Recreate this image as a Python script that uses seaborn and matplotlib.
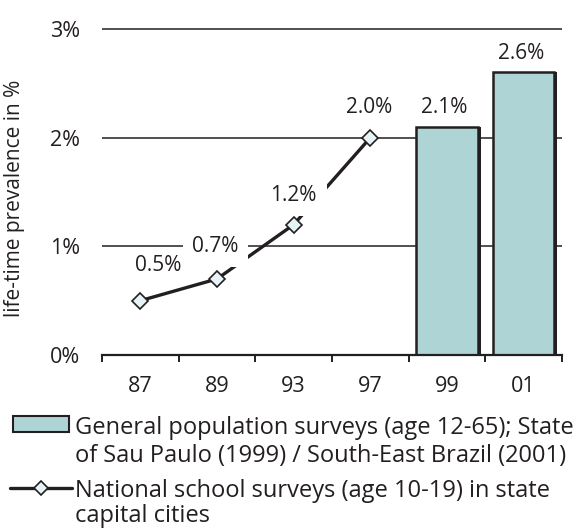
import matplotlib
matplotlib.use("Agg")
import matplotlib.pyplot as plt
import matplotlib.patheffects as pe
from matplotlib.patches import Rectangle
from matplotlib.lines import Line2D
import seaborn as sns

# Survey years on the category axis
years = ["87", "89", "93", "97", "99", "01"]

# National school surveys (age 10-19), life-time prevalence in %
school_years = ["87", "89", "93", "97"]
school_values = [0.5, 0.7, 1.2, 2.0]

# General population surveys (age 12-65)
general_years = ["99", "01"]
general_values = [2.1, 2.6]

y_ticks = [0, 1, 2, 3]
y_tick_labels = ["0%", "1%", "2%", "3%"]

legend_bar_lines = ["General population surveys (age 12-65); State",
                    "of Sau Paulo (1999) / South-East Brazil (2001)"]
legend_line_lines = ["National school surveys (age 10-19) in state",
                     "capital cities"]

INK = "#231f20"
BAR = "#aed4d5"
MARKER_FACE = "#e6f4f8"

sns.set_theme(style="white")
plt.rcParams["font.family"] = ["Open Sans", "DejaVu Sans"]

W, H = 579, 529
fig = plt.figure(figsize=(W / 100, H / 100), dpi=100)

y_top = 3.05
px_per_unit = (355 - 29) / 3.0
ax_h = px_per_unit * y_top
ax = fig.add_axes([102 / W, (H - 355) / H, 460 / W, ax_h / H])

# horizontal reference lines at 1%, 2%, 3%
for t in y_ticks[1:]:
    ax.axhline(t, color=INK, lw=1.1, zorder=1)

# bars for the general population surveys
sns.barplot(x=general_years, y=general_values, order=years, color=BAR,
            saturation=1, width=0.8, edgecolor=INK, linewidth=1.8,
            ax=ax, zorder=2)
for p in ax.patches:
    p.set_path_effects([pe.SimplePatchShadow(offset=(2.2, 0), shadow_rgbFace=INK, alpha=1),
                        pe.Normal()])

# line for the school surveys
school_pos = [years.index(y) for y in school_years]
sns.lineplot(x=school_pos, y=school_values, color=INK, lw=2.4, marker="D",
             markersize=8, markerfacecolor=MARKER_FACE, markeredgecolor=INK,
             markeredgewidth=1.2, ax=ax, zorder=3)

# value labels; white boxes break the line and grid where they overlap
LABEL_FS = 15
school_offsets = [(13, 25), (-1, 23), (0, 21), (-1, 21.5)]
school_pads = [0.15, 0.45, 0.5, 0.45]
for pos, v, off, pad in zip(school_pos, school_values, school_offsets, school_pads):
    ax.annotate(f"{v:.1f}%", xy=(pos, v), xytext=off, textcoords="offset points",
                ha="center", va="center", fontsize=LABEL_FS, color=INK,
                bbox=dict(boxstyle=f"square,pad={pad}", fc="white", ec="none"),
                zorder=5)
for yr, v in zip(general_years, general_values):
    ax.annotate(f"{v:.1f}%", xy=(years.index(yr), v), xytext=(-2, 14),
                textcoords="offset points", ha="center", va="center",
                fontsize=LABEL_FS, color=INK, zorder=5)

ax.set_xlim(-0.5, len(years) - 0.5)
ax.set_ylim(0, y_top)
ax.set_xticks(range(len(years)), years)
ax.set_xticks([i - 0.5 for i in range(len(years) + 1)], minor=True)
ax.set_yticks(y_ticks, y_tick_labels)
ax.tick_params(axis="x", which="major", length=0, pad=15, labelsize=15.5, labelcolor=INK)
ax.tick_params(axis="x", which="minor", length=5, width=1.4, direction="out", color=INK, bottom=True)
ax.tick_params(axis="y", length=0, pad=16, labelsize=15.5, labelcolor=INK)
ax.set_xlabel("")
ax.set_ylabel("life-time prevalence in %", fontsize=15, color=INK)
ax.yaxis.set_label_coords((25 - 102) / 460, (355 - 198) / ax_h)

for side in ["left", "right", "top"]:
    ax.spines[side].set_visible(False)
ax.spines["bottom"].set_color(INK)
ax.spines["bottom"].set_linewidth(1.6)
ax.spines["bottom"].set_zorder(4)

# legend drawn below the axes
def fx(px):
    return px / W

def fy(py):
    return 1 - py / H

LEG_FS = 17
fig.patches.append(Rectangle((fx(13), fy(432)), fx(69) - fx(13), fy(416) - fy(432),
                             transform=fig.transFigure, facecolor=BAR, edgecolor=INK,
                             linewidth=1.5))
for i, line in enumerate(legend_bar_lines):
    fig.text(fx(75), fy(425 + 28 * i), line, ha="left", va="center_baseline",
             fontsize=LEG_FS, color=INK)
fig.lines.append(Line2D([fx(10), fx(72)], [fy(488), fy(488)], transform=fig.transFigure,
                        color=INK, lw=2.4))
fig.lines.append(Line2D([fx(41)], [fy(488)], transform=fig.transFigure, marker="D",
                        markersize=7, markerfacecolor=MARKER_FACE, markeredgecolor=INK,
                        markeredgewidth=1.2, linestyle="none"))
for i, line in enumerate(legend_line_lines):
    fig.text(fx(75), fy(488 + 25 * i), line, ha="left", va="center_baseline",
             fontsize=LEG_FS, color=INK)

fig.savefig("out.png", dpi=100)
